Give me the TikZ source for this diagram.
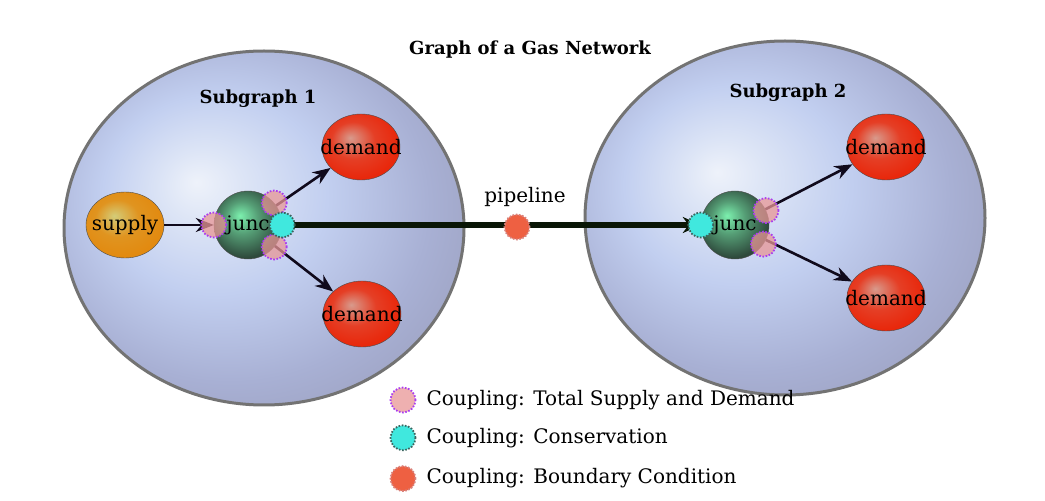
\documentclass[tikz,border=0pt]{standalone}
\usepackage{fontspec}
\setmainfont{DejaVu Serif}
\usetikzlibrary{shapes.geometric, arrows.meta, positioning}

\definecolor{regc}{HTML}{EEF2FA}
\definecolor{regl}{HTML}{DDE5F6}
\definecolor{regm}{HTML}{C2CFF0}
\definecolor{rege}{HTML}{A8B0D4}
\definecolor{regf}{HTML}{9EA3C3}
\definecolor{supc}{HTML}{D4CC78}
\definecolor{supe}{HTML}{E28A10}
\definecolor{demc}{HTML}{D89A8C}
\definecolor{deme}{HTML}{E8280C}
\definecolor{juncc}{HTML}{7CF0AE}
\definecolor{junce}{HTML}{2E4A3C}
\definecolor{linec}{HTML}{100A1C}
\definecolor{pipec}{HTML}{0A1606}

% radial shadings: the 50bp square in the middle is fitted to the path
\pgfdeclareradialshading{regionshade}{\pgfpoint{-8.5bp}{6.5bp}}{color(0bp)=(regc); color(5bp)=(regl); color(14bp)=(regm); color(25bp)=(rege); color(32bp)=(regf); color(50bp)=(regf)}
\pgfdeclareradialshading{supplyshade}{\pgfpoint{-7bp}{7bp}}{color(0bp)=(supc); color(14bp)=(supe!85!supc); color(27bp)=(supe); color(50bp)=(supe)}
\pgfdeclareradialshading{demandshade}{\pgfpoint{-7bp}{7bp}}{color(0bp)=(demc); color(14bp)=(deme!80!demc); color(27bp)=(deme); color(50bp)=(deme)}
\pgfdeclareradialshading{juncshade}{\pgfpoint{-6bp}{7bp}}{color(0bp)=(juncc); color(12bp)=(juncc!50!junce); color(27bp)=(junce); color(50bp)=(junce)}

% text that may run over the edge of its node
\newcommand{\overrun}[1]{\makebox[0pt]{#1}}

\begin{document}
\begin{tikzpicture}[
    x=1pt, y=1pt,
    region/.style={ellipse, draw=gray!90!black, line width=3pt, shading=regionshade, minimum width=400pt, minimum height=354pt, inner sep=0pt},
    supplynode/.style={ellipse, draw=black!70, shading=supplyshade, minimum width=78pt, minimum height=66pt, inner sep=0pt, font=\fontsize{20}{22}\selectfont},
    demandnode/.style={ellipse, draw=black!70, shading=demandshade, minimum width=78pt, minimum height=66pt, inner sep=0pt, font=\fontsize{20}{22}\selectfont},
    juncnode/.style={circle, draw=black!70, shading=juncshade, minimum size=68pt, inner sep=0pt, font=\fontsize{20}{22}\selectfont},
    totalcpl/.style={circle, minimum size=25pt, inner sep=0pt, fill={rgb,255:red,232;green,150;blue,150}, fill opacity=0.75, draw={rgb,255:red,170;green,60;blue,240}, draw opacity=1, line width=1.8pt, dash pattern=on 1.6pt off 1.6pt},
    conscpl/.style={circle, minimum size=25pt, inner sep=0pt, fill={rgb,255:red,64;green,232;blue,222}, draw={rgb,255:red,60;green,100;blue,95}, line width=1.8pt, dash pattern=on 1.6pt off 1.6pt},
    bndcpl/.style={circle, minimum size=25pt, inner sep=0pt, fill={rgb,255:red,238;green,96;blue,66}, draw={rgb,255:red,215;green,130;blue,125}, line width=1.8pt, dash pattern=on 1.6pt off 1.6pt},
    heading/.style={font=\fontsize{18}{20}\selectfont\bfseries},
    legend/.style={anchor=west, inner sep=0pt, font=\fontsize{20}{22}\selectfont},
    arrow/.style={draw=linec, line width=2.6pt, -{Stealth[length=18pt, width=14pt]}},
    pipe/.style={draw=pipec, line width=5.5pt, -{Stealth[length=18pt, width=16pt]}}
]
\useasboundingbox (0,0) rectangle (1045,501);

% Subgraphs
\node[region] (sub1) at (264,273) {};
\node[region] (sub2) at (785,283) {};
\node[heading] (title) at (530,451) {Graph of a Gas Network};
\node[heading] (sub1lbl) at (258,402) {Subgraph 1};
\node[heading] (sub2lbl) at (788,408) {Subgraph 2};

% Nodes
\node[supplynode] (supply) at (125,276) {\overrun{supply}};
\node[juncnode] (junc1) at (248,276) {\overrun{junc}};
\node[demandnode] (dem1a) at (361,354) {\overrun{demand}};
\node[demandnode] (dem1b) at (362,187) {\overrun{demand}};
\node[juncnode] (junc2) at (735,276) {\overrun{junc}};
\node[demandnode] (dem2a) at (886,354) {\overrun{demand}};
\node[demandnode] (dem2b) at (886,203) {\overrun{demand}};

% Connections
\draw[arrow] (supply) -- (junc1);
\draw[arrow] (junc1) -- (dem1a);
\draw[arrow] (junc1) -- (dem1b);
\draw[arrow] (junc2) -- (dem2a);
\draw[arrow] (junc2) -- (dem2b);
\draw[pipe] (junc1.east) -- node[pos=0.58, above=12pt, font=\fontsize{20}{22}\selectfont] (pipelbl) {pipeline} (junc2.west);

% Couplings
\node[bndcpl] (bnd) at (517,274) {};
\node[totalcpl] (tot1a) at (junc1.180) {};
\node[totalcpl] (tot1b) at (junc1.40) {};
\node[totalcpl] (tot1c) at (junc1.-40) {};
\node[conscpl] (cons1) at (junc1.0) {};
\node[conscpl] (cons2) at (junc2.180) {};
\node[totalcpl] (tot2a) at (junc2.25) {};
\node[totalcpl] (tot2b) at (junc2.-34) {};

% Legend
\node[totalcpl] (leg1) at (403,101) {};
\node[legend, right=10pt of leg1] (legtxt1) {Coupling: Total Supply and Demand};
\node[conscpl, below=11pt of leg1] (leg2) {};
\node[legend, right=10pt of leg2] (legtxt2) {Coupling: Conservation};
\node[bndcpl, below=14pt of leg2] (leg3) {};
\node[legend, right=10pt of leg3] (legtxt3) {Coupling: Boundary Condition};

\end{tikzpicture}
\end{document}
